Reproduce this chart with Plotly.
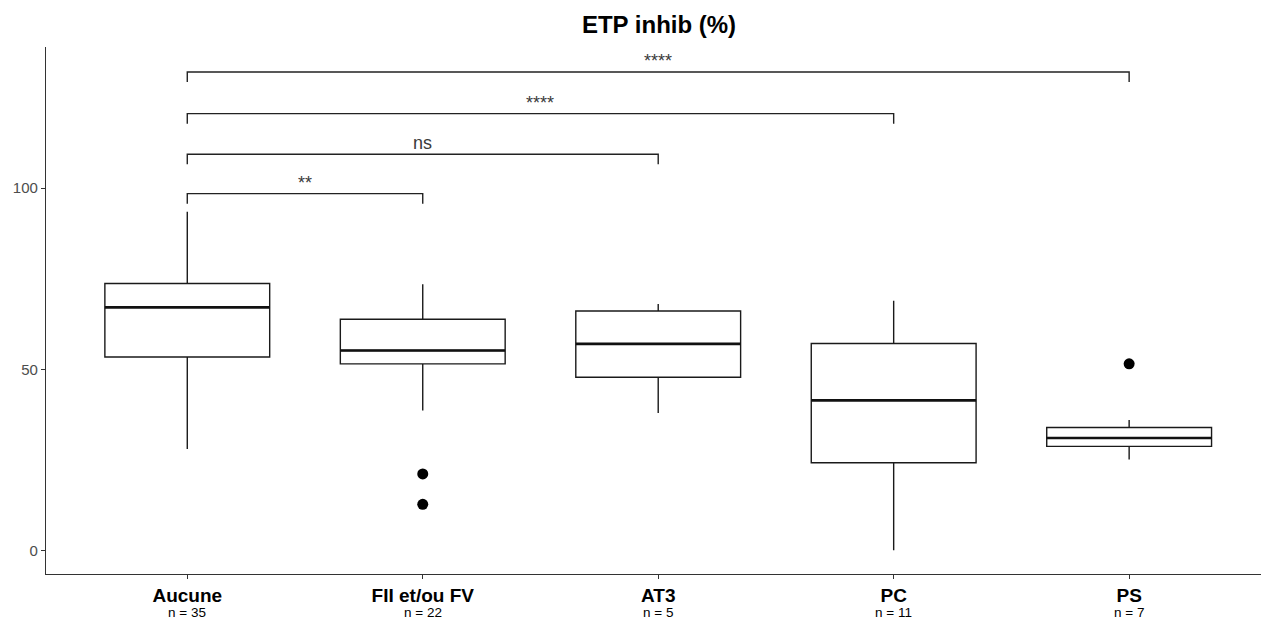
import plotly.graph_objects as go

# ---------------- data ----------------
categories = ["Aucune", "FII et/ou FV", "AT3", "PC", "PS"]
n_counts = [35, 22, 5, 11, 7]
q1 = [53.4, 51.5, 47.8, 24.2, 28.7]
median = [67.1, 55.2, 57.0, 41.4, 31.0]
q3 = [73.7, 63.8, 66.1, 57.1, 33.9]
lower_whisker = [28.0, 38.6, 37.9, 0.0, 25.1]
upper_whisker = [93.5, 73.5, 68.0, 68.9, 36.0]
outlier_group = ["FII et/ou FV", "FII et/ou FV", "PS"]
outlier_value = [21.1, 12.7, 51.5]

# comparisons (group A, group B, bracket height, label)
comp_from = ["Aucune", "Aucune", "Aucune", "Aucune"]
comp_to = ["FII et/ou FV", "AT3", "PC", "PS"]
comp_y = [98.5, 109.4, 120.6, 132.1]
comp_label = ["**", "ns", "****", "****"]

y_tick_vals = [0, 50, 100]

# ---------------- figure ----------------
FONT = "Liberation Sans, Arial, sans-serif"
pos = {c: i + 1 for i, c in enumerate(categories)}
BOXW = 0.7
fig = go.Figure()

for i, c in enumerate(categories):
    fig.add_trace(go.Box(
        x=[pos[c]], q1=[q1[i]], median=[median[i]], q3=[q3[i]],
        lowerfence=[lower_whisker[i]], upperfence=[upper_whisker[i]],
        width=BOXW, whiskerwidth=0, fillcolor="white",
        line=dict(color="#1a1a1a", width=1.4), boxpoints=False,
        showlegend=False, hoverinfo="skip"))
    # thicker median line
    fig.add_trace(go.Scatter(
        x=[pos[c] - BOXW / 2, pos[c] + BOXW / 2], y=[median[i], median[i]],
        mode="lines", line=dict(color="#111111", width=2.6),
        showlegend=False, hoverinfo="skip"))

fig.add_trace(go.Scatter(
    x=[pos[g] for g in outlier_group], y=outlier_value, mode="markers",
    marker=dict(color="black", size=11), showlegend=False, hoverinfo="skip"))

TICK = 2.8
for a, b, h, lab in zip(comp_from, comp_to, comp_y, comp_label):
    xa, xb = pos[a], pos[b]
    fig.add_trace(go.Scatter(
        x=[xa, xa, xb, xb], y=[h - TICK, h, h, h - TICK], mode="lines",
        line=dict(color="#222222", width=1.4), showlegend=False, hoverinfo="skip"))
    fig.add_annotation(x=(xa + xb) / 2, y=h, text=lab, showarrow=False,
                       yanchor="bottom", xanchor="center", yshift=-1,
                       font=dict(family=FONT, size=18, color="#3a3a3a"))

# sample sizes under the category labels
for c, n in zip(categories, n_counts):
    fig.add_annotation(x=pos[c], y=0, yref="paper", text=f"n = {n}",
                       showarrow=False, xanchor="center", yanchor="middle",
                       yshift=-38, font=dict(family=FONT, size=13.5, color="black"))

fig.update_layout(
    width=1261, height=621,
    margin=dict(l=46, r=0, t=47, b=47),
    paper_bgcolor="white", plot_bgcolor="white",
    font=dict(family=FONT, color="black"),
    title=dict(text="<b>ETP inhib (%)</b>", x=(659 - 46) / 1215, xref="paper",
               y=1 - 25 / 621, yref="container", xanchor="center", yanchor="middle",
               font=dict(family=FONT, size=24, color="black")),
    xaxis=dict(range=[0.4, 5.56], tickvals=[pos[c] for c in categories],
               ticktext=[f"<b>{c}</b>" for c in categories],
               showgrid=False, zeroline=False, automargin=False,
               showline=True, linecolor="#333333", linewidth=1.3,
               ticks="outside", ticklen=4, tickcolor="#333333", tickwidth=1.3,
               tickfont=dict(family=FONT, size=19, color="black")),
    yaxis=dict(range=[-6.54, 139.0], tickvals=y_tick_vals, showgrid=False,
               zeroline=False, showline=True, linecolor="#333333", linewidth=1.3,
               automargin=False,
               ticks="outside", ticklen=4, tickcolor="#333333", tickwidth=1.3,
               tickfont=dict(family=FONT, size=15, color="#4D4D4D")),
)

fig.write_html("out.html")
